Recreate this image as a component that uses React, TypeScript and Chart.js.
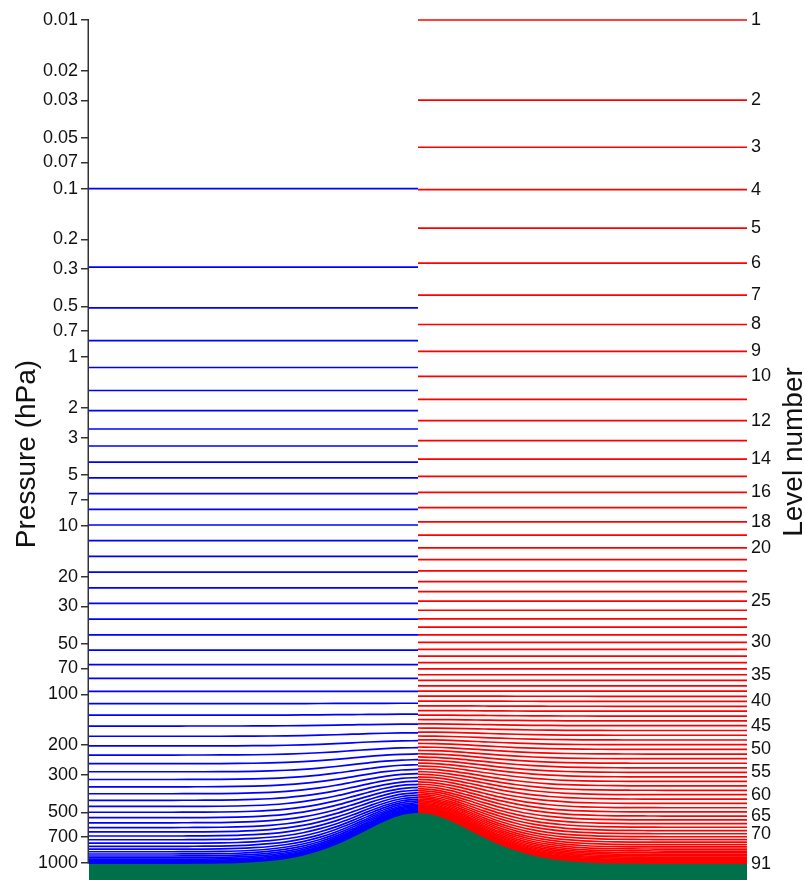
import React, { useEffect, useRef } from 'react';
import { Chart, registerables } from 'chart.js';

Chart.register(...registerables);

// Horizontal position across the section (0 = left edge, 1 = right edge)
const X_POS = [
  0, 0.025, 0.05, 0.075, 0.1, 0.125, 0.15, 0.175, 0.2, 0.225,
  0.25, 0.275, 0.3, 0.325, 0.35, 0.375, 0.4, 0.425, 0.45, 0.475,
  0.5, 0.525, 0.55, 0.575, 0.6, 0.625, 0.65, 0.675, 0.7, 0.725,
  0.75, 0.775, 0.8, 0.825, 0.85, 0.875, 0.9, 0.925, 0.95, 0.975, 1,
];

// Surface pressure (hPa) along the section – the green mountain
const SURFACE_HPA = [
  1013, 1013, 1013, 1013, 1013, 1013, 1012, 1011, 1008, 1002,
  991, 973, 945, 904, 849, 782, 706, 630, 565, 521,
  505, 521, 565, 630, 706, 782, 849, 904, 945, 973,
  991, 1002, 1008, 1011, 1012, 1013, 1013, 1013, 1013, 1013, 1013,
];

// 60-level set (blue): half-level A (Pa) and B coefficients
const A60 = [
  0, 20.006, 38.425, 63.648, 95.637, 134.483, 180.584, 234.779, 298.496, 373.972,
  464.618, 575.651, 713.218, 883.661, 1094.835, 1356.475, 1680.640, 2082.274, 2579.889, 3196.422,
  3960.292, 4906.708, 6018.020, 7306.631, 8765.054, 10376.127, 12077.446, 13775.325, 15379.806, 16819.475,
  18045.184, 19027.695, 19755.109, 20222.205, 20429.863, 20384.480, 20097.402, 19584.330, 18864.750, 17961.357,
  16899.469, 15706.447, 14411.124, 13043.219, 11632.759, 10209.501, 8802.356, 7438.803, 6144.315, 4941.778,
  3850.913, 2887.697, 2063.780, 1385.913, 855.362, 467.334, 210.394, 65.889, 7.368, 0, 0,
];
const B60 = [
  0, 0, 0, 0, 0, 0, 0, 0, 0, 0,
  0, 0, 0, 0, 0, 0, 0, 0, 0, 0,
  0, 0, 0, 0, 0.0000758, 0.0004613, 0.0018151, 0.0050811, 0.0111429, 0.0206779,
  0.0341212, 0.0516904, 0.0735338, 0.0996747, 0.1300225, 0.1643843, 0.2024759, 0.2439331, 0.2883229, 0.3351549,
  0.3838921, 0.4339629, 0.4847715, 0.5357099, 0.5861684, 0.6355475, 0.6832686, 0.7287858, 0.7715966, 0.8112534,
  0.8473749, 0.8796570, 0.9078839, 0.9319403, 0.9518215, 0.9676452, 0.9796627, 0.9882701, 0.9940194, 0.9976301, 1,
];

// 91-level set (red): half-level A (Pa) and B coefficients
const A91 = [
  0, 2.000, 3.981, 7.387, 12.908, 21.414, 33.953, 51.747, 76.168, 108.716,
  150.986, 204.637, 271.357, 352.824, 450.686, 566.519, 701.813, 857.946, 1036.167, 1237.585,
  1463.164, 1713.710, 1989.874, 2292.156, 2620.898, 2976.302, 3358.426, 3767.196, 4202.417, 4663.776,
  5150.860, 5663.156, 6199.839, 6759.727, 7341.470, 7942.926, 8564.624, 9208.306, 9873.561, 10558.882,
  11262.484, 11982.662, 12713.897, 13453.226, 14192.010, 14922.686, 15638.054, 16329.561, 16990.623, 17613.281,
  18191.029, 18716.969, 19184.545, 19587.514, 19919.797, 20175.395, 20348.916, 20434.158, 20426.219, 20319.012,
  20107.031, 19785.357, 19348.775, 18798.822, 18141.297, 17385.596, 16544.586, 15633.566, 14665.646, 13653.220,
  12608.384, 11543.167, 10471.311, 9405.223, 8356.253, 7335.165, 6353.921, 5422.803, 4550.216, 3743.464,
  3010.147, 2356.203, 1784.855, 1297.656, 895.194, 576.314, 336.772, 162.043, 54.208, 6.576,
  0.003, 0,
];
const B91 = [
  0, 0, 0, 0, 0, 0, 0, 0, 0, 0,
  0, 0, 0, 0, 0, 0, 0, 0, 0, 0,
  0, 0, 0, 0, 0, 0, 0, 0, 0, 0,
  0, 0, 0, 0, 0, 0.000014, 0.000055, 0.000131, 0.000279, 0.000548,
  0.001000, 0.001701, 0.002765, 0.004267, 0.006322, 0.009035, 0.012508, 0.016860, 0.022189, 0.028610,
  0.036227, 0.045146, 0.055474, 0.067316, 0.080777, 0.095964, 0.112979, 0.131935, 0.152934, 0.176091,
  0.201520, 0.229315, 0.259554, 0.291993, 0.326329, 0.362203, 0.399205, 0.436906, 0.475016, 0.513280,
  0.551458, 0.589317, 0.626559, 0.662934, 0.698224, 0.732224, 0.764679, 0.795385, 0.824185, 0.850950,
  0.875518, 0.897767, 0.917651, 0.935157, 0.950274, 0.963007, 0.973466, 0.982238, 0.989153, 0.994204,
  0.997630, 1,
];

// Axis tick labels
const PRESSURE_TICKS = [
  0.01, 0.02, 0.03, 0.05, 0.07, 0.1, 0.2, 0.3, 0.5, 0.7,
  1, 2, 3, 5, 7, 10, 20, 30, 50, 70,
  100, 200, 300, 500, 700, 1000,
];
const LEVEL_TICKS = [1, 2, 3, 4, 5, 6, 7, 8, 9, 10, 12, 14, 16, 18, 20, 25, 30, 35, 40, 45, 50, 55, 60, 65, 70, 91];

const Y_MIN = 0.01;
const Y_MAX = 1261;
const FONT = '"Liberation Sans", Arial, Helvetica, sans-serif';

function fullLevel(A: number[], B: number[], k: number) {
  // k: 1-based full level index; returns [a (hPa), b]
  return [(A[k - 1] + A[k]) / 200, (B[k - 1] + B[k]) / 2];
}

function levelDatasets(A: number[], B: number[], from: number, to: number, color: string) {
  const out: any[] = [];
  for (let k = 1; k < A.length; k++) {
    const [a, b] = fullLevel(A, B, k);
    const data: { x: number; y: number }[] = [];
    for (let i = from; i <= to; i++) data.push({ x: X_POS[i], y: a + b * SURFACE_HPA[i] });
    out.push({
      data,
      borderColor: color,
      borderWidth: 1.7,
      pointRadius: 0,
      fill: false,
      cubicInterpolationMode: 'monotone',
      clip: { left: 0, right: 0, top: 3, bottom: 0 },
      order: 1,
      yAxisID: 'y',
    });
  }
  return out;
}

const decorPlugin = {
  id: 'decor',
  afterDraw(chart: any) {
    const { ctx, chartArea, scales } = chart;
    const y = scales.y;
    ctx.save();
    ctx.strokeStyle = '#333';
    ctx.lineWidth = 1.5;
    ctx.beginPath();
    const x = chartArea.left - 0.75;
    ctx.moveTo(x, chartArea.top - 0.5);
    ctx.lineTo(x, y.getPixelForValue(1000) + 0.5);
    ctx.stroke();

    ctx.fillStyle = '#111';
    ctx.font = '28px ' + FONT;
    ctx.textAlign = 'center';
    ctx.textBaseline = 'alphabetic';
    ctx.save();
    ctx.translate(35, 454);
    ctx.rotate(-Math.PI / 2);
    ctx.fillText('Pressure (hPa)', 0, 0);
    ctx.restore();
    ctx.save();
    ctx.translate(802, 452);
    ctx.rotate(-Math.PI / 2);
    ctx.fillText('Level number', 0, 0);
    ctx.restore();
    ctx.restore();
  },
};

export default function App() {
  const ref = useRef<HTMLCanvasElement>(null);

  useEffect(() => {
    if (!ref.current) return;
    const last = SURFACE_HPA.length - 1;
    const mid = X_POS.indexOf(0.5);
    const rightTickValues = LEVEL_TICKS.map((n) => {
      const [a, b] = fullLevel(A91, B91, n);
      return a + b * SURFACE_HPA[last];
    });

    const datasets = [
      {
        data: X_POS.map((x, i) => ({ x, y: SURFACE_HPA[i] })),
        borderColor: '#00704a',
        borderWidth: 0,
        backgroundColor: '#00704a',
        pointRadius: 0,
        fill: { value: Y_MAX },
        cubicInterpolationMode: 'monotone',
        order: 0,
        yAxisID: 'y',
      },
      ...levelDatasets(A60, B60, 0, mid, '#0000ff'),
      ...levelDatasets(A91, B91, mid, last, '#ff0000'),
    ];

    const chart = new Chart(ref.current, {
      type: 'line',
      data: { datasets } as any,
      options: {
        animation: false,
        responsive: false,
        devicePixelRatio: 1,
        events: [],
        layout: { padding: { top: 20, bottom: 0, left: 0, right: 0 } },
        plugins: { legend: { display: false }, tooltip: { enabled: false } },
        scales: {
          x: { type: 'linear', min: 0, max: 1, display: false },
          y: {
            type: 'logarithmic',
            position: 'left',
            reverse: true,
            min: Y_MIN,
            max: Y_MAX,
            border: { display: false },
            grid: { drawOnChartArea: false, drawTicks: true, tickLength: 8, color: '#333', lineWidth: 1.5 },
            ticks: {
              autoSkip: false,
              padding: 3,
              color: '#111',
              font: { family: FONT, size: 18 },
              callback: (v: any) => String(v),
            },
            afterBuildTicks: (s: any) => {
              s.ticks = PRESSURE_TICKS.map((v) => ({ value: v }));
            },
            afterFit: (s: any) => {
              s.width = 89;
              s.paddingTop = 0;
              s.paddingBottom = 0;
            },
          },
          yR: {
            type: 'logarithmic',
            position: 'right',
            reverse: true,
            min: Y_MIN,
            max: Y_MAX,
            border: { display: false },
            grid: { display: false, drawTicks: false },
            ticks: {
              autoSkip: false,
              padding: 4,
              color: '#111',
              font: { family: FONT, size: 18 },
              callback: (_v: any, i: number) => String(LEVEL_TICKS[i]),
            },
            afterBuildTicks: (s: any) => {
              s.ticks = rightTickValues.map((v) => ({ value: v }));
            },
            afterFit: (s: any) => {
              s.width = 58;
              s.paddingTop = 0;
              s.paddingBottom = 0;
            },
          },
        },
      } as any,
      plugins: [decorPlugin],
    });
    return () => chart.destroy();
  }, []);

  return (
    <div style={{ position: 'fixed', left: 0, top: 0, width: 805, height: 880, background: '#fff' }}>
      <canvas ref={ref} width={805} height={880} style={{ display: 'block' }} />
    </div>
  );
}
